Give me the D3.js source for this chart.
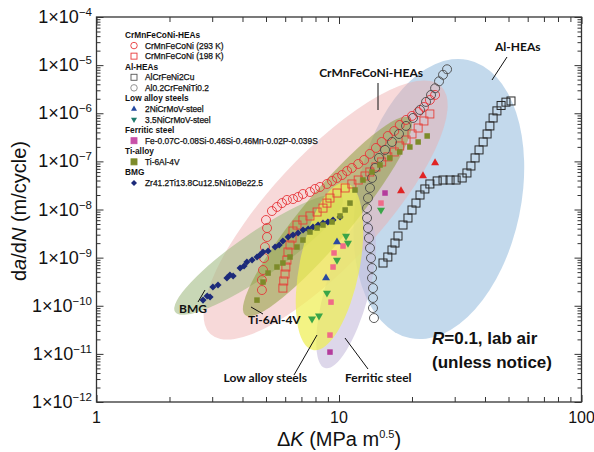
<!DOCTYPE html>
<html>
<head>
<meta charset="utf-8">
<script src="https://cdn.jsdelivr.net/npm/d3@7"></script>
<style>
body{margin:0;background:#fff;}
svg{display:block;font-family:Arial,"Liberation Sans",sans-serif;}
</style>
</head>
<body>
<svg id="chart" width="594" height="452"></svg>
<script>
// each point: [deltaK (MPa m^0.5), da/dN (m/cycle)]
var crMnFeCoNi293 = [[4.81,2.12e-10],[4.81,3.42e-10],[4.86,5.52e-10],[4.91,9.8e-10],[4.95,1.66e-9],[5.05,2.68e-9],
  [5.05,4.12e-9],[5.0,6.05e-9],[5.29,9.3e-9],[5.55,1.13e-8],[5.82,1.36e-8],[6.1,1.58e-8],[6.46,1.65e-8],[6.78,1.82e-8],
  [7.1,2.1e-8],[7.59,2.31e-8],[7.96,2.67e-8],[8.35,2.94e-8],[8.92,3.39e-8],[9.36,3.92e-8],[9.81,4.52e-8],[10.3,5.21e-8],
  [10.8,6.31e-8],[11.3,7.29e-8],[12.0,8.83e-8],[12.7,1.07e-7],[13.4,1.43e-7],[14.2,1.9e-7],[15.0,2.53e-7],[15.9,3.37e-7],
  [16.9,4.28e-7],[17.8,5.71e-7],[18.9,7.26e-7],[20.0,8.8e-7],[21.2,1.06e-6],[22.4,1.35e-6],[23.7,1.89e-6],[24.9,2.4e-6]];

var crMnFeCoNi198 = [[5.87,2.33e-10],[5.92,3.27e-10],[5.99,4.56e-10],[6.04,6.38e-10],[6.1,8.9e-10],[6.16,1.31e-9],
  [6.28,1.83e-9],[6.4,2.55e-9],[6.46,3.57e-9],[6.71,4.76e-9],[7.1,6.05e-9],[7.59,7.33e-9],[8.12,8.87e-9],[8.59,1.07e-8],
  [8.92,1.36e-8],[9.18,1.73e-8],[9.81,2.2e-8],[10.6,2.8e-8],[11.3,3.39e-8],[12.0,4.1e-8],[12.8,4.97e-8],[13.4,6.02e-8],
  [14.2,7.65e-8],[15.0,9.72e-8],[15.9,1.24e-7],[16.9,1.57e-7],[17.8,2.09e-7],[18.9,2.78e-7],[20.0,3.71e-7],[21.2,4.94e-7],
  [22.4,6.91e-7],[23.7,9.66e-7]];

var alCrFeNi2Cu = [[15.19,7.73e-10],[15.9,1.03e-9],[16.54,1.44e-9],[17.02,2.01e-9],[17.51,2.81e-9],[18.36,4.76e-9],
  [19.25,6.65e-9],[20.0,9.77e-9],[20.77,1.36e-8],[21.58,2.0e-8],[22.6,2.67e-8],[23.7,3.39e-8],[25.4,3.92e-8],[26.85,4.1e-8],
  [28.7,4.1e-8],[30.4,4.1e-8],[32.2,4.52e-8],[33.7,5.74e-8],[35.0,8.02e-8],[36.4,1.18e-7],[37.8,1.73e-7],[39.3,2.53e-7],
  [40.8,3.71e-7],[41.9,5.45e-7],[43.2,7.98e-7],[44.8,1.12e-6],[46.6,1.45e-6],[48.8,1.7e-6],[51.2,1.8e-6]];

var al02CrFeNiTi02 = [[13.94,5.55e-11],[13.81,8.97e-11],[13.81,1.45e-10],[13.81,2.33e-10],[13.68,3.77e-10],[13.68,6.08e-10],
  [13.55,9.8e-10],[13.42,1.58e-9],[13.29,2.55e-9],[13.17,4.12e-9],[13.05,6.65e-9],[13.05,1.07e-8],[13.17,1.73e-8],
  [13.42,2.8e-8],[13.68,4.52e-8],[14.08,7.29e-8],[14.62,1.18e-7],[15.48,1.73e-7],[16.54,2.53e-7],[17.68,3.71e-7],
  [18.9,5.45e-7],[20.2,7.98e-7],[21.58,1.17e-6],[22.85,1.72e-6],[23.96,2.4e-6],[24.9,3.3e-6],[25.85,4.6e-6],
  [26.85,6.3e-6],[27.9,8.2e-6]];

var niCrMoV2 = [[8.84,3.77e-10],[9.81,2.11e-9]];
var niCrMoV2Red = [[18.02,2.43e-8],[22.2,4.97e-8],[24.9,9.27e-8]];
var niCrMoV35 = [[7.74,5.36e-11],[8.27,6.19e-11],[8.92,1.84e-10],[9.81,8.9e-10],[10.69,2.81e-9],[10.89,2.01e-9],[14.9,9.77e-9]];
var ferritic = [[10.39,1.74e-9],[9.54,1.25e-9],[9.45,6.38e-10],[9.27,1.19e-10],[9.18,2.46e-11],[14.9,1.36e-8]];
var ferriticDark = [[9.18,1.09e-11],[15.48,2.2e-8]];

var ti6Al4V = [[4.59,1.31e-10],[4.86,3.11e-10],[5.1,4.78e-10],[5.55,6.38e-10],[5.87,7.73e-10],[6.28,1.03e-9],[6.71,1.66e-9],
  [7.1,2.32e-9],[7.59,3.4e-9],[8.12,4.12e-9],[8.59,4.76e-9],[9.36,5.5e-9],[10.1,7.33e-9],[10.6,9.77e-9],[11.1,1.36e-8],
  [11.64,2.54e-8],[12.56,4.1e-8],[13.68,6.0e-8],[14.76,8.4e-8],[16.2,1.18e-7],[17.8,1.57e-7],[19.6,1.99e-7],[21.2,2.53e-7],
  [23.1,3.37e-7]];

var bmg = [[2.75,1.31e-10],[2.86,1.59e-10],[2.94,1.52e-10],[3.02,2.45e-10],[3.17,2.69e-10],[3.45,3.77e-10],[3.55,4.35e-10],
  [3.66,4.14e-10],[3.91,6.08e-10],[4.06,6.69e-10],[4.17,8.1e-10],[4.38,8.9e-10],[4.59,1.03e-9],[4.72,1.13e-9],[4.86,1.31e-9],
  [5.10,1.37e-9],[5.45,1.66e-9],[5.67,1.83e-9],[5.87,2.21e-9],[6.17,2.68e-9],[6.46,2.95e-9],[6.78,3.25e-9],[7.11,3.75e-9],
  [7.46,3.93e-9],[7.81,4.33e-9],[8.2,4.76e-9],[8.59,5.24e-9],[9.0,5.5e-9],[9.45,6.05e-9],[10.1,6.98e-9]];

// shaded groups: major axis ends in data units
var regions = [
  {name:"alHea",  from:[19.6,2.13e-11], to:[34.0,1.28e-5]},
  {name:"crHea",  from:[2.95,2.58e-11], to:[26.3,3.7e-6]},
  {name:"bmg",    from:[2.11,7.4e-11],  to:[10.3,1.82e-8]},
  {name:"ti",     from:[4.1,6.4e-11],   to:[19.6,7.98e-7]},
  {name:"ferr",   from:[8.76,5.07e-12], to:[13.05,6.05e-9]},
  {name:"lowAlloy", from:[7.81,1.2e-11], to:[10.69,3.56e-8]}
];

var xTickValues = [1,10,100];
var xTickLabels = ["1","10","100"];
var yExponents = [-12,-11,-10,-9,-8,-7,-6,-5,-4];

var legendItems = [
  {h:"CrMnFeCoNi-HEAs"},
  {t:"CrMnFeCoNi (293 K)", s:"circle", c:"#e8393a", f:"none"},
  {t:"CrMnFeCoNi (198 K)", s:"square", c:"#e8393a", f:"none"},
  {h:"Al-HEAs"},
  {t:"AlCrFeNi2Cu", s:"square", c:"#555", f:"none"},
  {t:"Al0.2CrFeNiTi0.2", s:"circle", c:"#888", f:"none"},
  {h:"Low alloy steels"},
  {t:"2NiCrMoV-steel", s:"triUp", c:"#2448a0", f:"#2448a0"},
  {t:"3.5NiCrMoV-steel", s:"triDown", c:"#1e7a6c", f:"#1e7a6c"},
  {h:"Ferritic steel"},
  {t:"Fe-0.07C-0.08Si-0.46Si-0.46Mn-0.02P-0.039S", s:"square", c:"#c850a8", f:"#c850a8"},
  {h:"Ti-alloy"},
  {t:"Ti-6Al-4V", s:"square", c:"#7d8b2a", f:"#7d8b2a"},
  {h:"BMG"},
  {t:"Zr41.2Ti13.8Cu12.5Ni10Be22.5", s:"diamond", c:"#1c2a7a", f:"#1c2a7a"}
];

var svg = d3.select("#chart");
var x = d3.scaleLog().domain([1,100]).range([96.5,581.5]);
var y = d3.scaleLog().domain([1e-12,1e-4]).range([402,17]);

var regionStyle = {
  alHea:{fill:"#a9c9e4", op:0.7, ry:82},
  crHea:{fill:"#eeaaaa", op:0.45, ry:55},
  bmg:{fill:"#a3bd85", op:0.6, ry:22},
  ti:{fill:"#8f9e3e", op:0.55, ry:25},
  ferr:{fill:"#c6bcdc", op:0.6, ry:22},
  lowAlloy:{fill:"#eeee55", op:0.72, ry:30}
};

var regG = svg.append("g");
regions.forEach(function(r){
  var x1 = x(r.from[0]), y1 = y(r.from[1]), x2 = x(r.to[0]), y2 = y(r.to[1]);
  var cx = (x1+x2)/2, cy = (y1+y2)/2;
  var rx = Math.hypot(x2-x1, y2-y1)/2;
  var ang = Math.atan2(y2-y1, x2-x1)*180/Math.PI;
  var st = regionStyle[r.name];
  regG.append("ellipse").attr("cx",cx).attr("cy",cy).attr("rx",rx).attr("ry",st.ry)
    .attr("transform","rotate("+ang+","+cx+","+cy+")")
    .attr("fill",st.fill).attr("fill-opacity",st.op);
});

function mark(g, shape, cx, cy, size, stroke, fill, sw){
  if(shape==="circle"){
    g.append("circle").attr("cx",cx).attr("cy",cy).attr("r",size/2)
      .attr("fill",fill).attr("stroke",stroke).attr("stroke-width",sw);
  } else if(shape==="square"){
    g.append("rect").attr("x",cx-size/2).attr("y",cy-size/2).attr("width",size).attr("height",size)
      .attr("fill",fill).attr("stroke",stroke).attr("stroke-width",sw);
  } else if(shape==="diamond"){
    g.append("rect").attr("x",-size/2.8).attr("y",-size/2.8).attr("width",size/1.4).attr("height",size/1.4)
      .attr("transform","translate("+cx+","+cy+") rotate(45)")
      .attr("fill",fill).attr("stroke","none");
  } else {
    var p = d3.symbol().type(d3.symbolTriangle).size(size*size*0.433)();
    g.append("path").attr("d",p)
      .attr("transform","translate("+cx+","+cy+")"+(shape==="triDown"?" rotate(180)":""))
      .attr("fill",fill).attr("stroke","none");
  }
}

var series = [
  {data:crMnFeCoNi293, s:"circle", size:9, c:"#e6363a", f:"none", sw:0.9},
  {data:crMnFeCoNi198, s:"square", size:8, c:"#e6403a", f:"none", sw:0.9},
  {data:al02CrFeNiTi02, s:"circle", size:9, c:"#4a4a4a", f:"none", sw:0.9},
  {data:alCrFeNi2Cu, s:"square", size:8, c:"#2a2a2a", f:"none", sw:1},
  {data:bmg, s:"diamond", size:7, c:"#1c2a7a", f:"#1c2a7a", sw:0},
  {data:ti6Al4V, s:"square", size:5.5, c:"#7d8b2a", f:"#7d8b2a", sw:0},
  {data:ferritic, s:"square", size:5.5, c:"#f06a88", f:"#f06a88", sw:0},
  {data:ferriticDark, s:"square", size:5.5, c:"#b43c9c", f:"#b43c9c", sw:0},
  {data:niCrMoV2, s:"triUp", size:8, c:"#2a4aa0", f:"#2a4aa0", sw:0},
  {data:niCrMoV2Red, s:"triUp", size:8, c:"#e02424", f:"#e02424", sw:0},
  {data:niCrMoV35, s:"triDown", size:8, c:"#3aa548", f:"#3aa548", sw:0}
];

var ptG = svg.append("g");
series.forEach(function(se){
  se.data.forEach(function(d){
    mark(ptG, se.s, x(d[0]), y(d[1]), se.size, se.c, se.f, se.sw);
  });
});

// axes, ticks inward on all sides
var xAll = x.ticks();
var yAll = y.ticks();
function isMajor(v){ var l = Math.log10(v); return Math.abs(l-Math.round(l))<1e-6; }
var xMinor = xAll.filter(function(v){return !isMajor(v);});
var yMinor = yAll.filter(function(v){return !isMajor(v);});
var yMajor = yExponents.map(function(e){return Math.pow(10,e);});

function axisGroup(axis, tx, ty){
  var g = svg.append("g").attr("transform","translate("+tx+","+ty+")").call(axis);
  g.select(".domain").remove();
  g.selectAll("line").attr("stroke","#333").attr("stroke-width",1);
  return g;
}
axisGroup(d3.axisBottom(x).tickValues(xMinor).tickSize(-5).tickFormat(""), 0, 402);
axisGroup(d3.axisBottom(x).tickValues(xTickValues).tickSize(-7).tickFormat(""), 0, 402);
axisGroup(d3.axisTop(x).tickValues(xMinor).tickSize(-5).tickFormat(""), 0, 17);
axisGroup(d3.axisTop(x).tickValues(xTickValues).tickSize(-7).tickFormat(""), 0, 17);
axisGroup(d3.axisLeft(y).tickValues(yMinor).tickSize(-4).tickFormat(""), 96.5, 0);
axisGroup(d3.axisLeft(y).tickValues(yMajor).tickSize(-7).tickFormat(""), 96.5, 0);
axisGroup(d3.axisRight(y).tickValues(yMinor).tickSize(-4).tickFormat(""), 581.5, 0);
axisGroup(d3.axisRight(y).tickValues(yMajor).tickSize(-7).tickFormat(""), 581.5, 0);

svg.append("rect").attr("x",96.5).attr("y",17).attr("width",485).attr("height",385)
  .attr("fill","none").attr("stroke","#333").attr("stroke-width",1.3);

// tick labels
xTickValues.forEach(function(v,i){
  svg.append("text").attr("x",x(v)).attr("y",423).attr("text-anchor","middle")
    .attr("font-size",16).attr("fill","#111").text(xTickLabels[i]);
});
yExponents.forEach(function(e){
  var t = svg.append("text").attr("x",92).attr("y",y(Math.pow(10,e))+6).attr("text-anchor","end")
    .attr("font-size",18).attr("fill","#111");
  t.append("tspan").text("1\u00d710");
  t.append("tspan").attr("dy",-7).attr("font-size",11.5).text("\u2212"+Math.abs(e));
});

// axis titles
var xt = svg.append("text").attr("x",339).attr("y",446).attr("text-anchor","middle").attr("font-size",20).attr("fill","#111");
xt.append("tspan").text("\u0394");
xt.append("tspan").attr("font-style","italic").text("K");
xt.append("tspan").text(" (MPa m");
xt.append("tspan").attr("dy",-8).attr("font-size",11).text("0.5");
xt.append("tspan").attr("dy",8).text(")");

var yt = svg.append("text").attr("transform","translate(26,211) rotate(-90)").attr("text-anchor","middle")
  .attr("font-size",20).attr("fill","#111");
yt.append("tspan").text("d");
yt.append("tspan").attr("font-style","italic").text("a");
yt.append("tspan").text("/d");
yt.append("tspan").attr("font-style","italic").text("N");
yt.append("tspan").text(" (m/cycle)");

// legend
var lg = svg.append("g");
legendItems.forEach(function(it,i){
  var ly = 35 + i*10.57;
  if(it.h){
    lg.append("text").attr("x",125).attr("y",ly+3).attr("font-size",8.3).attr("font-weight","bold")
      .attr("fill","#111").text(it.h);
  } else {
    mark(lg, it.s, 134, ly, it.s==="circle"?6.5:6, it.c, it.f, 0.9);
    lg.append("text").attr("x",145).attr("y",ly+3).attr("font-size",8.4).attr("fill","#111")
      .attr("stroke","#111").attr("stroke-width",0.25).text(it.t);
  }
});

// group labels with leader lines
var notes = [
  {t:"CrMnFeCoNi-HEAs", x:423, y:77, a:"end", l:[378,83,378,110]},
  {t:"Al-HEAs", x:495, y:51, a:"start", l:[507,57,492,80]},
  {t:"BMG", x:193, y:313, a:"middle", l:[198,302,205,290]},
  {t:"Ti-6Al-4V", x:248, y:324, a:"start", l:[251,307,263,314]},
  {t:"Low alloy steels", x:307, y:382, a:"end", l:[317,335,294,375]},
  {t:"Ferritic steel", x:345, y:382, a:"start", l:[345,338,368,369]}
];
notes.forEach(function(n){
  svg.append("line").attr("x1",n.l[0]).attr("y1",n.l[1]).attr("x2",n.l[2]).attr("y2",n.l[3])
    .attr("stroke","#111").attr("stroke-width",1);
  svg.append("text").attr("x",n.x).attr("y",n.y).attr("text-anchor",n.a)
    .attr("font-family","Lato, Arial, sans-serif").attr("font-weight","bold").attr("font-size",12)
    .attr("fill","#111").text(n.t);
});

var rt = svg.append("text").attr("x",432).attr("y",344).attr("font-size",17).attr("font-weight","bold").attr("fill","#111");
rt.append("tspan").attr("font-style","italic").text("R");
rt.append("tspan").text("=0.1, lab air");
svg.append("text").attr("x",432).attr("y",368).attr("font-size",17).attr("font-weight","bold").attr("fill","#111")
  .text("(unless notice)");
</script>
</body>
</html>
